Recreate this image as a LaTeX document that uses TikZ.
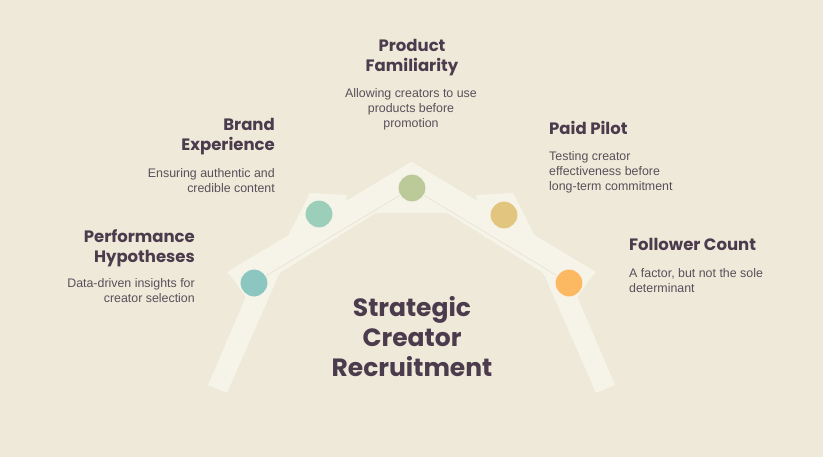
\documentclass[tikz,border=0pt]{standalone}
\usepackage{fontspec}
\setmainfont{Liberation Sans}
\newfontfamily\titlefont{Poppins}
\definecolor{bg}{HTML}{EEE9D8}
\definecolor{band}{HTML}{F6F4E9}
\definecolor{seam}{HTML}{E8E4D2}
\definecolor{ttl}{HTML}{4B3B4D}
\definecolor{dsc}{HTML}{57505B}
\definecolor{cteal}{HTML}{8BC6C1}
\definecolor{cgreen}{HTML}{9CCFB9}
\definecolor{colive}{HTML}{BCCA9A}
\definecolor{cgold}{HTML}{E2C57E}
\definecolor{corange}{HTML}{FDB862}
\tikzset{
  bandshape/.style={fill=band, draw=none},
  dot/.style={circle, minimum size=28pt, inner sep=0pt, draw=band, line width=1pt},
  conn/.style={draw=seam, line width=0.7pt},
  ttlbox/.style={inner sep=0pt, text=ttl, font=\titlefont\bfseries\fontsize{16.5}{20}\selectfont},
  dscbox/.style={inner sep=0pt, text=dsc, font=\fontsize{12.4}{15}\selectfont},
  centerbox/.style={inner sep=0pt, text=ttl, align=center, font=\titlefont\bfseries\fontsize{25}{30}\selectfont}
}
\begin{document}
\begin{tikzpicture}[x=1pt,y=-1pt]
\useasboundingbox (0,0) rectangle (823,457);
\fill[bg] (0,0) rectangle (823,457);
% roof shapes
\fill[bandshape] (208,385) -- (227,393) -- (280,272) -- (259,266) -- cycle;
\fill[bandshape] (615,385) -- (596,393) -- (543,272) -- (564,266) -- cycle;
\fill[bandshape] (229,273) -- (290,262) -- (252,306) -- cycle;
\fill[bandshape] (594,273) -- (533,262) -- (571,306) -- cycle;
\fill[bandshape] (310,193) -- (347,195) -- (338,238) -- (287,238) -- cycle;
\fill[bandshape] (513,193) -- (476,195) -- (485,238) -- (536,238) -- cycle;
\fill[bandshape] (411,162) -- (372,213) -- (451,213) -- cycle;
\fill[bandshape] (227,272) -- (411,162) -- (422,184) -- (246,294) -- cycle;
\fill[bandshape] (596,272) -- (412,162) -- (401,184) -- (577,294) -- cycle;
% circles
\node[dot, fill=cteal] (c1) at (254,283) {};
\node[dot, fill=cgreen] (c2) at (319,214) {};
\node[dot, fill=colive] (c3) at (412,188) {};
\node[dot, fill=cgold] (c4) at (504,215) {};
\node[dot, fill=corange] (c5) at (569,283) {};
\draw[conn] (c1) -- (c3);
\draw[conn] (c3) -- (c5);
% texts
\node[ttlbox, anchor=north, align=center] (t3) at (412,39) {Product\\Familiarity};
\node[dscbox, anchor=north, align=center] (d3) at (411,88) {Allowing creators to use\\products before\\promotion};
\node[ttlbox, anchor=north east, align=right] (t2) at (275,118) {Brand\\Experience};
\node[dscbox, anchor=north east, align=right] (d2) at (275,168) {Ensuring authentic and\\credible content};
\node[ttlbox, anchor=north east, align=right] (t1) at (195,229) {Performance\\Hypotheses};
\node[dscbox, anchor=north east, align=right] (d1) at (195,278) {Data-driven insights for\\creator selection};
\node[ttlbox, anchor=north west, align=left] (t4) at (549,121) {Paid Pilot};
\node[dscbox, anchor=north west, align=left] (d4) at (549,151) {Testing creator\\effectiveness before\\long-term commitment};
\node[ttlbox, anchor=north west, align=left] (t5) at (629,238) {Follower Count};
\node[dscbox, anchor=north west, align=left] (d5) at (629,268) {A factor, but not the sole\\determinant};
\node[centerbox, anchor=north] (ct) at (412,296) {Strategic\\Creator\\Recruitment};
\end{tikzpicture}
\end{document}
